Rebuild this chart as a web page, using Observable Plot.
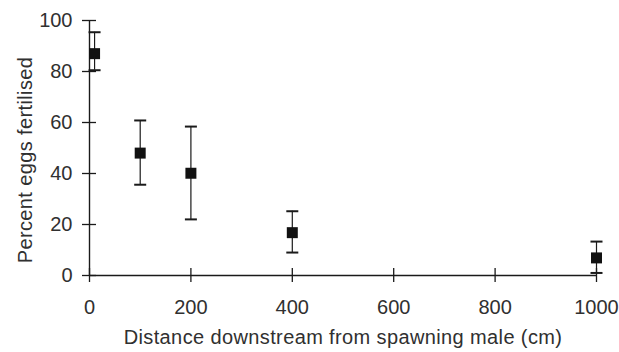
<!DOCTYPE html>
<html>
<head>
<meta charset="utf-8">
<script src="https://cdn.jsdelivr.net/npm/d3@7"></script>
<script src="https://cdn.jsdelivr.net/npm/@observablehq/plot@0.6"></script>
<style>
  html, body { margin: 0; padding: 0; background: white; }
  .title-text text { letter-spacing: 0.38px; }
</style>
</head>
<body>
<div id="chart"></div>
<script>
const distance = [10, 100, 200, 400, 1000];
const meanPct  = [87.0, 48.0, 40.1, 16.8, 6.9];
const upperPct = [95.4, 60.8, 58.4, 25.2, 13.3];
const lowerPct = [80.5, 35.6, 22.0, 9.0, 1.0];
const xTicks = [0, 200, 400, 600, 800, 1000];
const yTicks = [0, 20, 40, 60, 80, 100];
const xTitle = "Distance downstream from spawning male (cm)";
const yTitle = "Percent eggs fertilised";

const rows = distance.map((d, i) => ({d, mean: meanPct[i], hi: upperPct[i], lo: lowerPct[i]}));

const capSymbol = {
  draw(ctx, size) {
    const r = Math.sqrt(size / Math.PI);
    ctx.moveTo(-r, 0);
    ctx.lineTo(r, 0);
  }
};

const ink = "#1a1a1a";
const textInk = "#303030";

const chart = Plot.plot({
  width: 619,
  height: 352,
  marginLeft: 89,
  marginRight: 23,
  marginTop: 20,
  marginBottom: 77,
  style: {fontFamily: "'Liberation Sans', Arial, sans-serif", fontSize: "20px", color: textInk, background: "white", overflow: "visible"},
  x: {domain: [0, 1000]},
  y: {domain: [0, 100]},
  marks: [
    Plot.ruleY([0], {stroke: ink, strokeWidth: 1.6}),
    Plot.ruleX([0], {stroke: ink, strokeWidth: 1.4}),
    Plot.axisY({ticks: yTicks, tickSize: 14, dx: 7, fill: "none", stroke: ink, strokeWidth: 1.3, label: null}),
    Plot.axisY({ticks: yTicks, tickSize: 0, tickPadding: 17, label: null, fill: textInk, tickFormat: d => String(d)}),
    Plot.axisX({ticks: xTicks, tickSize: 14, dy: -7, fill: "none", stroke: ink, strokeWidth: 1.3, label: null}),
    Plot.axisX({ticks: xTicks, tickSize: 0, tickPadding: 24, label: null, fill: textInk, tickFormat: d => String(d)}),
    Plot.ruleX(rows, {x: "d", y1: "lo", y2: "hi", stroke: ink, strokeWidth: 1.2}),
    Plot.dot(rows, {x: "d", y: "hi", symbol: capSymbol, r: 6, stroke: ink, strokeWidth: 2}),
    Plot.dot(rows, {x: "d", y: "lo", symbol: capSymbol, r: 6, stroke: ink, strokeWidth: 2}),
    Plot.dot(rows, {x: "d", y: "mean", symbol: "square", r: 6.2, fill: "#111", stroke: "none"}),
    Plot.text([xTitle], {text: d => d, frameAnchor: "bottom", dy: 68.6, fill: textInk, fontSize: 20, className: "title-text"}),
    Plot.text([yTitle], {text: d => d, frameAnchor: "left", textAnchor: "middle", rotate: -90, dx: -64, dy: 12, fill: textInk, fontSize: 20, className: "title-text"})
  ]
});
document.getElementById("chart").appendChild(chart);
</script>
</body>
</html>
